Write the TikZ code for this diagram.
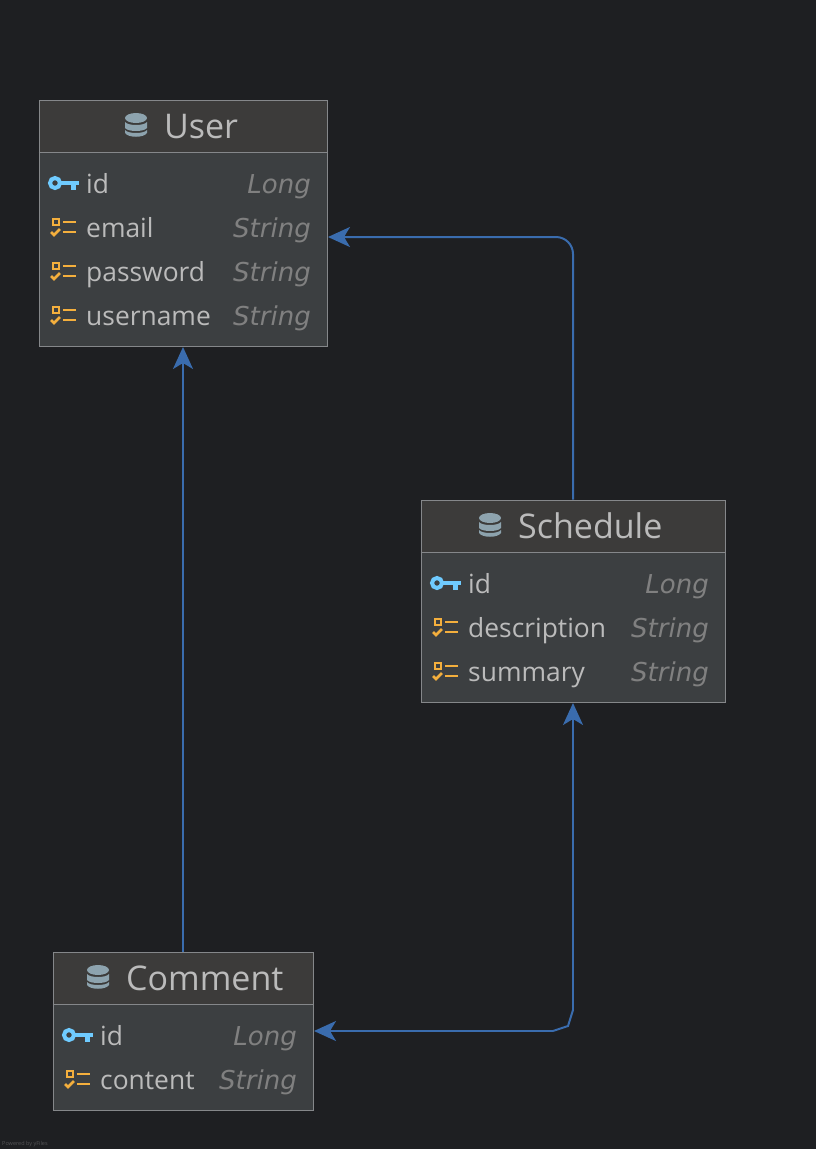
\documentclass[tikz,border=0pt]{standalone}
\usepackage{fontspec}
\setmainfont{Open Sans}
\newfontfamily\typefont{DejaVu Sans}
\usetikzlibrary{arrows.meta}
\definecolor{canvas}{HTML}{1E1F22}
\definecolor{headfill}{HTML}{3C3B3A}
\definecolor{bodyfill}{HTML}{3C3F41}
\definecolor{edgegray}{HTML}{85878A}
\definecolor{textgray}{HTML}{BBBBBB}
\definecolor{typegray}{HTML}{808080}
\definecolor{keyblue}{HTML}{6FCBFF}
\definecolor{fieldorange}{HTML}{F4AF3D}
\definecolor{dbgray}{HTML}{8DA3AE}
\definecolor{linkblue}{HTML}{3A6CAE}
\tikzset{
    keyicon/.pic = {
        \draw[keyblue, line width=4pt] (6,-1) circle (5);
        \fill[keyblue] (11,-3.5) rectangle (30,0.5);
        \fill[keyblue] (22,0) rectangle (27,6);
    },
    fieldicon/.pic = {
        \draw[fieldorange, line width=2.5pt] (3,-9) rectangle (9,-3);
        \draw[fieldorange, line width=2.5pt] (13,-6) -- (26,-6);
        \draw[fieldorange, line width=2.5pt] (1,4) -- (4,7) -- (10,1);
        \draw[fieldorange, line width=2.5pt] (13,4) -- (26,4);
    },
    dbicon/.pic = {
        \fill[dbgray] (0,-7) arc[x radius=11, y radius=5, start angle=180, end angle=-180];
        \fill[dbgray] (0,-3) .. controls (3,1) and (19,1) .. (22,-3) -- (22,3) .. controls (19,7) and (3,7) .. (0,3) -- cycle;
        \fill[dbgray] (0,5) .. controls (3,9) and (19,9) .. (22,5) -- (22,8) .. controls (19,13) and (3,13) .. (0,8) -- cycle;
    }
}
\begin{document}
\begin{tikzpicture}[x=1pt, y=-1pt,
        entity/.style = {draw=edgegray, fill=bodyfill, line width=1pt, inner sep=0pt},
        head/.style = {draw=edgegray, fill=headfill, line width=1pt, anchor=north, inner sep=0pt, minimum height=52pt},
        title/.style = {anchor=base west, inner sep=0pt, text=textgray, font=\fontsize{34}{40}\selectfont},
        fieldname/.style = {anchor=base west, inner sep=0pt, text=textgray, font=\fontsize{26.4}{30}\selectfont},
        fieldtype/.style = {anchor=base east, inner sep=0pt, text=typegray, font=\fontsize{26}{30}\typefont\itshape},
        link/.style = {draw=linkblue, line width=2pt, -{Stealth[length=22pt, width=20pt, inset=6pt]}, shorten >=0.5pt}]
    \useasboundingbox[fill=canvas] (0,0) rectangle (816,1149);

    % User
    \node[entity, minimum width=288pt, minimum height=246pt] (User) at (183,223) {};
    \node[head, minimum width=288pt] (UserHead) at (User.north) {};
    \draw[edgegray, line width=1.5pt] (UserHead.south west) -- (UserHead.south east);
    \pic at (125,125) {dbicon};
    \node[title] (UserTitle) at (164,138) {User};
    \pic at (49,184) {keyicon};
    \node[fieldname] (UserId) at (86,193) {id};
    \node[fieldtype] (UserIdType) at (311,193) {Long};
    \pic at (50,228) {fieldicon};
    \node[fieldname] (UserEmail) at (86,237) {email};
    \node[fieldtype] (UserEmailType) at (311,237) {String};
    \pic at (50,272) {fieldicon};
    \node[fieldname] (UserPassword) at (86,281) {password};
    \node[fieldtype] (UserPasswordType) at (311,281) {String};
    \pic at (50,316) {fieldicon};
    \node[fieldname] (UserName) at (86,325) {username};
    \node[fieldtype] (UserNameType) at (311,325) {String};

    % Schedule
    \node[entity, minimum width=304pt, minimum height=202pt] (Schedule) at (573,601) {};
    \node[head, minimum width=304pt] (ScheduleHead) at (Schedule.north) {};
    \draw[edgegray, line width=1.5pt] (ScheduleHead.south west) -- (ScheduleHead.south east);
    \pic at (479,525) {dbicon};
    \node[title] (ScheduleTitle) at (518,538) {Schedule};
    \pic at (431,584) {keyicon};
    \node[fieldname] (ScheduleId) at (468,593) {id};
    \node[fieldtype] (ScheduleIdType) at (709,593) {Long};
    \pic at (432,628) {fieldicon};
    \node[fieldname] (ScheduleDescription) at (468,637) {description};
    \node[fieldtype] (ScheduleDescriptionType) at (709,637) {String};
    \pic at (432,672) {fieldicon};
    \node[fieldname] (ScheduleSummary) at (468,681) {summary};
    \node[fieldtype] (ScheduleSummaryType) at (709,681) {String};

    % Comment
    \node[entity, minimum width=260pt, minimum height=158pt] (Comment) at (183,1031) {};
    \node[head, minimum width=260pt] (CommentHead) at (Comment.north) {};
    \draw[edgegray, line width=1.5pt] (CommentHead.south west) -- (CommentHead.south east);
    \pic at (87,977) {dbicon};
    \node[title] (CommentTitle) at (126,990) {Comment};
    \pic at (63,1036) {keyicon};
    \node[fieldname] (CommentId) at (100,1045) {id};
    \node[fieldtype] (CommentIdType) at (297,1045) {Long};
    \pic at (64,1080) {fieldicon};
    \node[fieldname] (CommentContent) at (100,1089) {content};
    \node[fieldtype] (CommentContentType) at (297,1089) {String};

    % links
    \coordinate (UserPort) at (327.5,237);
    \coordinate (BendA) at (573,1010);
    \coordinate (BendB) at (568,1026);
    \coordinate (BendC) at (553,1031);
    \path[link] (Comment.north) -- (User.south);
    \draw[link, rounded corners=17pt] (Schedule.north) |- (UserPort);
    \draw[link] (BendA) -- (Schedule.south);
    \draw[link, arrows={-}, shorten >=0pt] (BendA) -- (BendB) -- (BendC);
    \draw[link] (BendC) -- (Comment.east);

    \node[anchor=base west, inner sep=0pt, text=typegray!55!canvas, font=\fontsize{5.5}{6}\selectfont] (PoweredBy) at (2,1145) {Powered by yFiles};
\end{tikzpicture}
\end{document}
